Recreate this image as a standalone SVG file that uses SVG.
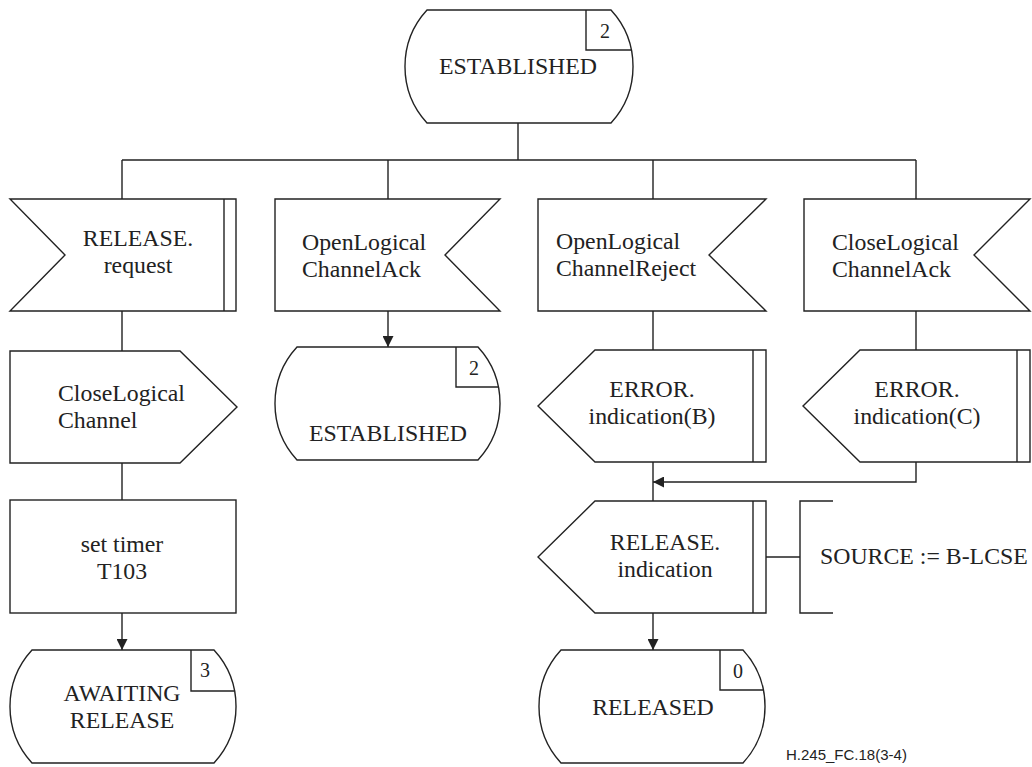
<svg xmlns="http://www.w3.org/2000/svg" width="1032" height="767" viewBox="0 0 1032 767">
<defs>
<style>
.s{fill:#fff;stroke:#222;stroke-width:1.4;stroke-linejoin:miter}
.l{fill:none;stroke:#222;stroke-width:1.4}
.t{font-family:"Liberation Serif","Times New Roman",serif;font-size:23.8px;fill:#222}
.n{font-family:"Liberation Serif","Times New Roman",serif;font-size:20px;fill:#222}
.c{text-anchor:middle}
.f{font-family:"Liberation Sans",Arial,sans-serif;font-size:15px;fill:#222}
</style>
<marker id="ah" viewBox="0 0 10 10" refX="10" refY="5" markerWidth="11" markerHeight="11" markerUnits="userSpaceOnUse" orient="auto">
<path d="M0,0 L10,5 L0,10 Z" fill="#222"/>
</marker>
</defs>
<rect width="1032" height="767" fill="#fff"/>

<g id="connectors">
<path class="l" d="M518,123 V160 M122,160 H916 M122,160 V199 M388,160 V199 M653,160 V199 M916,160 V199"/>
<path class="l" d="M122,311 V351 M122,463 V500"/>
<path class="l" d="M122,613 V650" marker-end="url(#ah)"/>
<path class="l" d="M388,311 V347" marker-end="url(#ah)"/>
<path class="l" d="M653,311 V350 M653,462 V501"/>
<path class="l" d="M916,311 V350"/>
<path class="l" d="M916,462 V482 H653" marker-end="url(#ah)"/>
<path class="l" d="M653,613 V650" marker-end="url(#ah)"/>
<path class="l" d="M766,557 H800"/>
</g>

<g id="state-established-top">
<path class="s" d="M427,10 H611 A83.5,83.5 0 0 1 611,123 H427 A83.5,83.5 0 0 1 427,10 Z"/>
<path class="l" d="M586,10 V50 H631"/>
<text class="n c" x="605" y="38">2</text>
<text class="t c" x="518" y="74">ESTABLISHED</text>
</g>

<g id="in-release-request">
<path class="s" d="M10,199 H236 V311 H10 L65,255 Z"/>
<path class="l" d="M224,199 V311"/>
<text class="t c" x="138" y="246">RELEASE.</text>
<text class="t c" x="138" y="273">request</text>
</g>

<g id="in-olc-ack">
<path class="s" d="M275,199 H500 L445,255 L500,311 H275 Z"/>
<text class="t" x="302" y="250">OpenLogical</text>
<text class="t" x="302" y="277">ChannelAck</text>
</g>

<g id="in-olc-reject">
<path class="s" d="M538,199 H766 L709,255 L766,311 H538 Z"/>
<text class="t" x="556" y="249">OpenLogical</text>
<text class="t" x="556" y="276">ChannelReject</text>
</g>

<g id="in-clc-ack">
<path class="s" d="M804,199 H1030 L974,255 L1030,311 H804 Z"/>
<text class="t" x="832" y="250">CloseLogical</text>
<text class="t" x="832" y="277">ChannelAck</text>
</g>

<g id="out-close-lc">
<path class="s" d="M10,351 H180 L237,407 L180,463 H10 Z"/>
<text class="t" x="58" y="401">CloseLogical</text>
<text class="t" x="58" y="428">Channel</text>
</g>

<g id="state-established-2">
<path class="s" d="M297,347 H478 A83.5,83.5 0 0 1 478,460 H297 A83.5,83.5 0 0 1 297,347 Z"/>
<path class="l" d="M456,347 V387 H498"/>
<text class="n c" x="474" y="375">2</text>
<text class="t c" x="388" y="441">ESTABLISHED</text>
</g>

<g id="out-error-b">
<path class="s" d="M595,350 H766 V462 H595 L538,406 Z"/>
<path class="l" d="M753,350 V462"/>
<text class="t c" x="652" y="397">ERROR.</text>
<text class="t c" x="652" y="424">indication(B)</text>
</g>

<g id="out-error-c">
<path class="s" d="M860,350 H1030 V462 H860 L803,406 Z"/>
<path class="l" d="M1017,350 V462"/>
<text class="t c" x="917" y="397">ERROR.</text>
<text class="t c" x="917" y="424">indication(C)</text>
</g>

<g id="task-set-timer">
<rect class="s" x="10" y="500" width="226" height="113"/>
<text class="t c" x="122" y="552">set timer</text>
<text class="t c" x="122" y="579">T103</text>
</g>

<g id="out-release-indication">
<path class="s" d="M595,501 H766 V613 H595 L538,557 Z"/>
<path class="l" d="M753,501 V613"/>
<text class="t c" x="665" y="550">RELEASE.</text>
<text class="t c" x="665" y="577">indication</text>
</g>

<g id="comment-source">
<path class="l" d="M833,501 H800 V613 H833"/>
<text class="t" x="820" y="564">SOURCE := B-LCSE</text>
</g>

<g id="state-awaiting-release">
<path class="s" d="M32,650 H214 A83.5,83.5 0 0 1 214,763 H32 A83.5,83.5 0 0 1 32,650 Z"/>
<path class="l" d="M191,650 V691 H234"/>
<text class="n c" x="205" y="677">3</text>
<text class="t c" x="122" y="701">AWAITING</text>
<text class="t c" x="122" y="728">RELEASE</text>
</g>

<g id="state-released">
<path class="s" d="M561,650 H743 A83.5,83.5 0 0 1 743,763 H561 A83.5,83.5 0 0 1 561,650 Z"/>
<path class="l" d="M720,650 V690 H763"/>
<text class="n c" x="738" y="678">0</text>
<text class="t c" x="653" y="715">RELEASED</text>
</g>

<text class="f" x="786" y="760">H.245_FC.18(3-4)</text>
</svg>
